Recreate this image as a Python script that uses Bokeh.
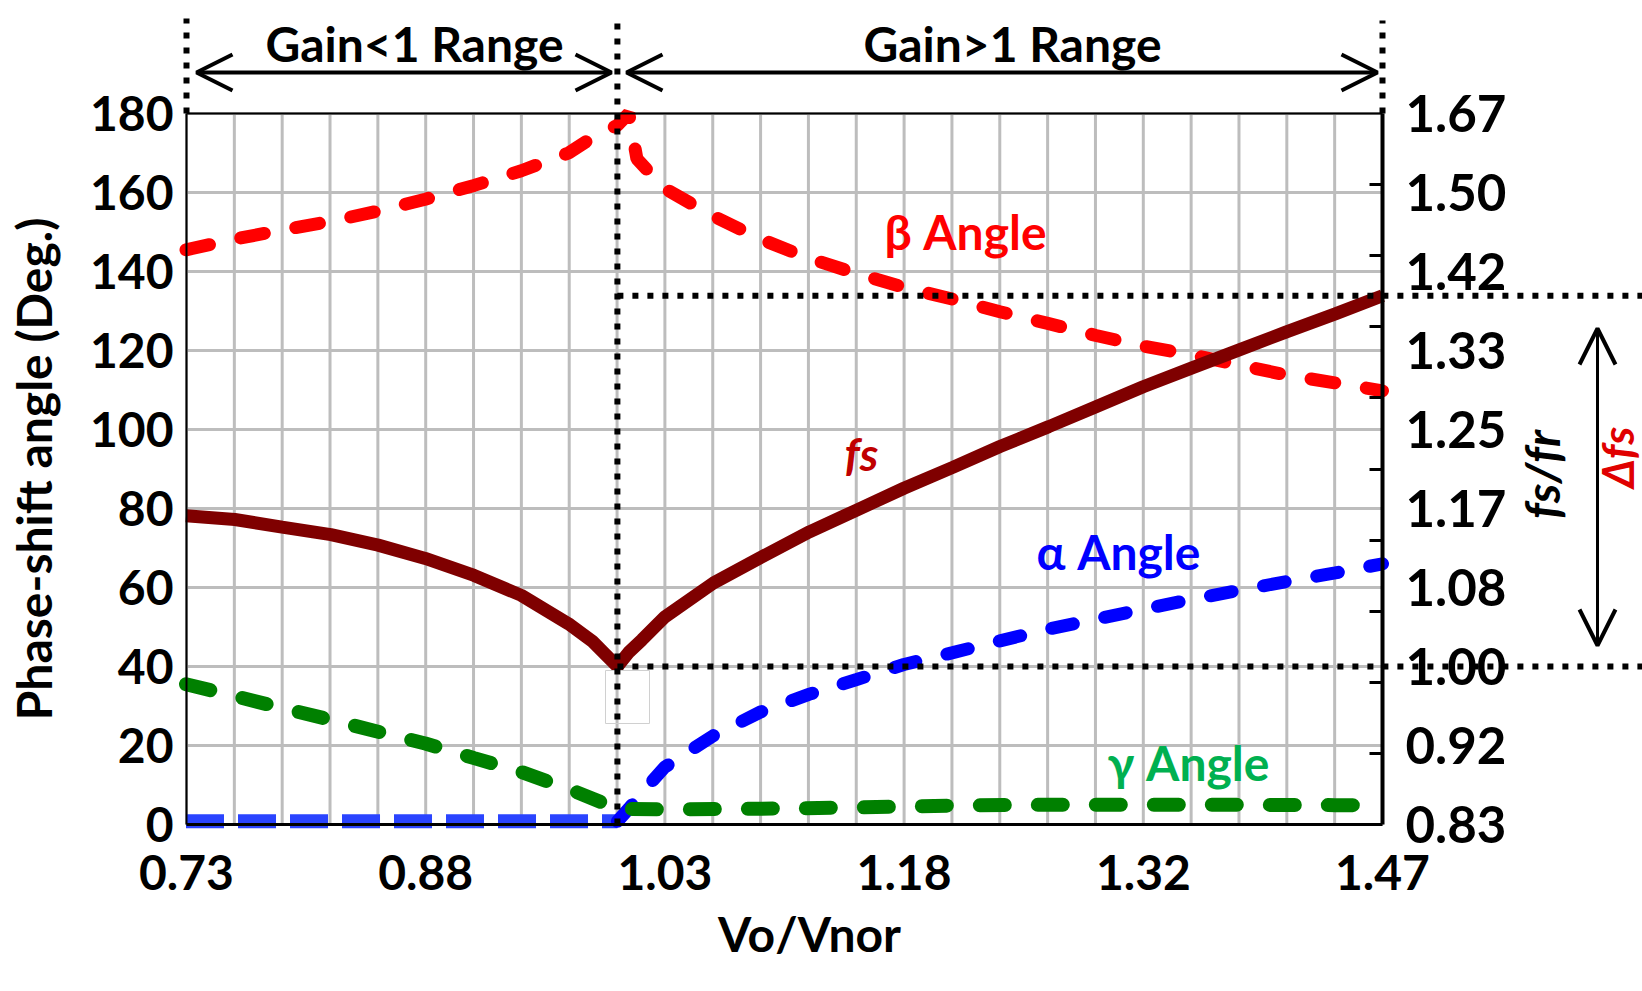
import numpy as np
from bokeh.plotting import figure
from bokeh.models import Range1d, LinearAxis, FixedTicker, Label, Arrow, OpenHead
from bokeh.embed import file_html
from bokeh.resources import INLINE

# ---------------- data ----------------
x_tick_values = [0.7353, 0.8822, 1.0292, 1.1761, 1.3231, 1.47]
x_tick_labels = ["0.73", "0.88", "1.03", "1.18", "1.32", "1.47"]
y_tick_values = [0, 20, 40, 60, 80, 100, 120, 140, 160, 180]
fsr_tick_values = [0.8333, 0.9167, 1.0, 1.0833, 1.1667, 1.25, 1.3333, 1.4167, 1.5, 1.5833]
fsr_tick_labels = ["0.83", "0.92", "1.00", "1.08", "1.17", "1.25", "1.33", "1.42", "1.50", "1.67"]

beta_vo = [0.735, 0.765, 0.794, 0.824, 0.853, 0.882, 0.912, 0.941, 0.970, 0.985, 1.0,
           1.007, 1.012, 1.029, 1.059, 1.088, 1.118, 1.147, 1.176, 1.206, 1.235,
           1.265, 1.294, 1.323, 1.353, 1.382, 1.411, 1.441, 1.47]
beta_deg = [145.5, 148.2, 150.5, 152.7, 155.3, 158.3, 161.8, 165.5, 170.0, 174.0, 177.0,
            180.0, 168.5, 161.0, 154.0, 148.2, 143.3, 139.5, 136.0, 133.0, 129.8,
            126.8, 123.8, 121.1, 118.9, 116.3, 113.8, 111.8, 109.8]

alpha_vo = [0.735, 0.765, 0.794, 0.824, 0.853, 0.882, 0.912, 0.941, 0.970, 1.0,
            1.007, 1.015, 1.029, 1.059, 1.088, 1.118, 1.147, 1.176, 1.206, 1.235,
            1.265, 1.294, 1.323, 1.353, 1.382, 1.411, 1.441, 1.47]
alpha_deg = [0.8, 0.8, 0.8, 0.8, 0.8, 0.8, 0.8, 0.8, 0.8, 0.8,
             4.0, 8.0, 14.5, 22.5, 28.5, 33.0, 36.7, 40.5, 43.5, 46.5,
             49.5, 52.0, 54.5, 57.0, 59.3, 61.5, 63.7, 66.0]

gamma_vo = [0.735, 0.765, 0.794, 0.824, 0.853, 0.882, 0.912, 0.941, 0.970, 1.0,
            1.029, 1.088, 1.147, 1.206, 1.265, 1.323, 1.382, 1.441, 1.47]
gamma_deg = [35.5, 32.5, 29.5, 26.5, 23.5, 20.5, 16.8, 13.3, 9.0, 4.0,
             3.8, 4.0, 4.3, 4.8, 5.0, 5.0, 5.0, 4.9, 4.9]

fs_vo = [0.735, 0.765, 0.794, 0.824, 0.853, 0.882, 0.912, 0.941, 0.970, 0.985, 1.0,
         1.007, 1.015, 1.029, 1.059, 1.088, 1.118, 1.147, 1.176, 1.206, 1.235,
         1.265, 1.294, 1.323, 1.353, 1.382, 1.411, 1.441, 1.47]
fs_ratio = [1.159, 1.155, 1.147, 1.139, 1.128, 1.114, 1.096, 1.075, 1.045, 1.026, 1.000,
            1.015, 1.028, 1.052, 1.088, 1.115, 1.142, 1.165, 1.188, 1.210, 1.232,
            1.253, 1.274, 1.295, 1.315, 1.334, 1.353, 1.372, 1.391]

# ---------------- geometry ----------------
W, H = 1642, 991
FL, FR, FT, FB = 186, 1382, 113, 824          # plot-area box in pixels
X0, X1 = 0.7353, 1.47
Y0, Y1 = 0.0, 180.0
R0, R1 = 0.8333, 1.5833                        # fs/fr axis limits
sx = (X1 - X0) / (FR - FL)
sy = (Y1 - Y0) / (FB - FT)
sr = (R1 - R0) / (Y1 - Y0)

def dx(px):
    return X0 + (px - FL) * sx

def dy(py):
    return Y0 + (FB - py) * sy

FONT = "Lato"

p = figure(width=W, height=H, output_backend="svg", toolbar_location=None,
           x_range=Range1d(dx(0), dx(W)), y_range=Range1d(dy(H), dy(0)),
           x_axis_location=None, y_axis_location=None,
           min_border_left=0, min_border_right=0, min_border_top=0, min_border_bottom=0)
p.extra_y_ranges = {"fsr": Range1d(R0 + (dy(H) - Y0) * sr, R0 + (dy(0) - Y0) * sr)}
p.background_fill_color = "white"
p.border_fill_color = "white"
p.outline_line_color = None
for g in p.grid:
    g.visible = False

# grid lines, limited to the plotting box
grid_x = list(np.linspace(X0, X1, 26))
p.segment(x0=grid_x, y0=[Y0] * 26, x1=grid_x, y1=[Y1] * 26, line_color="#bdbdbd", line_width=3)
p.segment(x0=[X0] * 10, y0=y_tick_values, x1=[X1] * 10, y1=y_tick_values,
          line_color="#bdbdbd", line_width=3)

# axes at fixed locations
xa = LinearAxis(fixed_location=Y0, bounds=(X0, X1), ticker=FixedTicker(ticks=x_tick_values))
xa.major_label_overrides = dict(zip(x_tick_values, x_tick_labels))
ya = LinearAxis(fixed_location=X0, bounds=(Y0, Y1), ticker=FixedTicker(ticks=y_tick_values),
                axis_label="Phase-shift angle (Deg.)")
ra = LinearAxis(y_range_name="fsr", fixed_location=X1, bounds=(R0, R1),
                ticker=FixedTicker(ticks=fsr_tick_values,
                                   minor_ticks=list(np.linspace(R0, R1, 11)[1:-1])))
ra.major_label_overrides = dict(zip(fsr_tick_values, fsr_tick_labels))
p.add_layout(xa, "below")
p.add_layout(ya, "left")
p.add_layout(ra, "right")

for ax in (xa, ya, ra):
    ax.axis_line_color = "black"
    ax.major_tick_in = 0
    ax.major_tick_out = 0
    ax.minor_tick_in = 0
    ax.minor_tick_out = 0
    ax.major_label_text_font = FONT
    ax.major_label_text_font_style = "bold"
    ax.major_label_text_font_size = "48px"
    ax.major_label_text_color = "black"
    ax.axis_label_text_font = FONT
    ax.axis_label_text_font_style = "bold"
    ax.axis_label_text_font_size = "48px"
    ax.axis_label_text_color = "black"
ra.major_label_text_font_size = "51px"
xa.axis_line_width = 3
ya.axis_line_width = 2
ra.axis_line_width = 4
ra.minor_tick_in = 13
ra.minor_tick_line_color = "black"
ra.minor_tick_line_width = 3
xa.major_label_standoff = 30
ya.major_label_standoff = 13
ya.axis_label_standoff = 25
ra.major_label_standoff = 23

# ---------------- series ----------------
p.line(beta_vo, beta_deg, line_color="#ff0000", line_width=13, line_dash="24 32", line_cap="round")

n_left = sum(1 for v in alpha_vo if v <= 1.0)
p.line(alpha_vo[:n_left], alpha_deg[:n_left], line_color="#2a44ff", line_width=14,
       line_dash="38 14", line_cap="butt")
p.line(alpha_vo[n_left - 1:], alpha_deg[n_left - 1:], line_color="#0000ff", line_width=13,
       line_dash="22 32", line_cap="round")

p.line(gamma_vo, gamma_deg, line_color="#008000", line_width=14, line_dash="25 33", line_cap="round")

p.line(fs_vo, fs_ratio, y_range_name="fsr", line_color="#7f0000", line_width=13)

# artifact box below the vertex
p.quad(left=[dx(605)], right=[dx(649)], bottom=[dy(723)], top=[dy(670)], fill_alpha=0,
       line_color="#d0d0d0", line_width=1)

# ---------------- annotations ----------------
p.add_layout(Arrow(start=None, end=None, x_start=X0, y_start=Y1, x_end=X1, y_end=Y1,
                   line_color="black", line_width=2))

dot = dict(line_color="black", line_width=6, line_dash="6 9")
p.add_layout(Arrow(start=None, end=None, x_start=X0, y_start=Y1, x_end=X0, y_end=dy(18), **dot))
p.add_layout(Arrow(start=None, end=None, x_start=1.0, y_start=Y0, x_end=1.0, y_end=dy(15), **dot))
p.add_layout(Arrow(start=None, end=None, x_start=X1, y_start=Y1, x_end=X1, y_end=dy(20), **dot))
fs_min, fs_max = min(fs_ratio), max(fs_ratio)
p.add_layout(Arrow(start=None, end=None, x_start=1.0, y_start=fs_min, x_end=dx(W), y_end=fs_min,
                   y_range_name="fsr", **dot))
p.add_layout(Arrow(start=None, end=None, x_start=1.0, y_start=fs_max, x_end=dx(W), y_end=fs_max,
                   y_range_name="fsr", **dot))

def head():
    return OpenHead(size=36, line_width=4, line_color="black")

p.add_layout(Arrow(start=head(), end=head(), x_start=dx(196), y_start=dy(72), x_end=dx(611),
                   y_end=dy(72), line_width=4, line_color="black"))
p.add_layout(Arrow(start=head(), end=head(), x_start=dx(626), y_start=dy(72), x_end=dx(1377),
                   y_end=dy(72), line_width=4, line_color="black"))
p.add_layout(Arrow(start=head(), end=head(), x_start=dx(1597), y_start=dy(328), x_end=dx(1597),
                   y_end=dy(645), line_width=3, line_color="black"))

def lab(px, py, text, color="black", size="48px", style="bold", angle=0.0,
        baseline="alphabetic"):
    p.add_layout(Label(x=dx(px), y=dy(py), text=text, text_color=color, text_font=FONT,
                       text_font_size=size, text_font_style=style, angle=angle,
                       text_align="center", text_baseline=baseline))

lab(414, 43, "Gain<1 Range")
lab(1012, 43, "Gain>1 Range")
lab(965, 231, "β Angle", color="#ff0000")
lab(1118, 551, "α Angle", color="#0000ff")
lab(1188, 762, "γ Angle", color="#00b050")
lab(861, 453, "fs", color="#c00000", size="46px", style="bold italic")
lab(809, 933, "Vo/Vnor")
lab(1541, 474, "fs/fr", style="bold italic", angle=np.pi / 2, baseline="middle")
lab(1616, 457, "Δfs", color="#e00000", size="44px", style="bold italic", angle=np.pi / 2,
    baseline="middle")

open("out.html", "w").write(file_html(p, INLINE))
